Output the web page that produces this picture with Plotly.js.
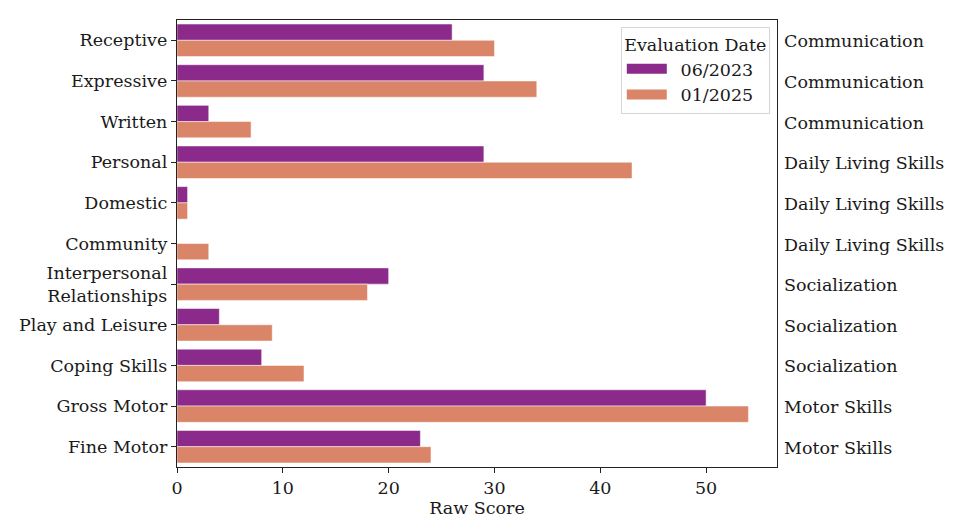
<!DOCTYPE html>
<html>
<head>
<meta charset="utf-8">
<script src="https://cdn.plot.ly/plotly-3.0.1.min.js"></script>
<style>html,body{margin:0;padding:0;background:#fff;}#chart{width:960px;height:530px;}</style>
</head>
<body>
<div id="chart"></div>
<script>
const subdomains = ["Receptive","Expressive","Written","Personal","Domestic","Community","Interpersonal<br>Relationships","Play and Leisure","Coping Skills","Gross Motor","Fine Motor"];
const domains = ["Communication","Communication","Communication","Daily Living Skills","Daily Living Skills","Daily Living Skills","Socialization","Socialization","Socialization","Motor Skills","Motor Skills"];
const scores2023 = [26,29,3,29,1,0,20,4,8,50,23];
const scores2025 = [30,34,7,43,1,3,18,9,12,54,24];
const seriesNames = ["06/2023","01/2025"];
const colors = ['#8B2A8B','#DA8468'];

const font = "DejaVu Serif, serif";
const fs = 17.5;
const pad = '\u2002';
const traces = [
  {type:'bar', orientation:'h', name:seriesNames[0], y:subdomains, x:scores2023, showlegend:false,
   marker:{color:colors[0], line:{color:'#ffffff', width:0.5}}},
  {type:'bar', orientation:'h', name:seriesNames[1], y:subdomains, x:scores2025, showlegend:false,
   marker:{color:colors[1], line:{color:'#ffffff', width:0.5}}},
  {type:'scatter', mode:'lines', name:pad + seriesNames[0], x:[null], y:[null], line:{color:colors[0], width:13}},
  {type:'scatter', mode:'lines', name:pad + seriesNames[1], x:[null], y:[null], line:{color:colors[1], width:13}}
];
const annotations = subdomains.map((s,i)=>({
  xref:'paper', yref:'y', x:1, y:s, xanchor:'left', yanchor:'middle', xshift:5, yshift:-1,
  text:domains[i], showarrow:false, font:{family:font, size:fs, color:'#1a1a1a'}
}));
const layout = {
  width:960, height:530,
  margin:{l:177, r:183, t:20, b:63},
  paper_bgcolor:'#fff', plot_bgcolor:'#fff',
  barmode:'group', bargap:0.2, bargroupgap:0,
  font:{family:font, size:fs, color:'#1a1a1a'},
  xaxis:{range:[0,56.7], showgrid:false, zeroline:false, showline:true, mirror:true,
    linecolor:'#222', linewidth:1.2, ticks:'outside', ticklen:5, tickcolor:'#222',
    tickvals:[0,10,20,30,40,50], tickfont:{family:font,size:fs},
    title:{text:'Raw Score', font:{family:font,size:fs}, standoff:4}},
  yaxis:{type:'category', autorange:'reversed', showgrid:false, zeroline:false,
    showline:true, mirror:true, linecolor:'#222', linewidth:1.2, ticks:'outside', ticklen:5,
    tickcolor:'#222', tickfont:{family:font,size:fs}},
  legend:{x:0.988, xanchor:'right', y:0.984, yanchor:'top', bgcolor:'rgba(255,255,255,0.85)',
    bordercolor:'#d6d6d6', borderwidth:1, font:{family:font,size:fs},
    title:{text:'Evaluation Date', font:{family:font,size:fs}, side:'top center'},
    traceorder:'normal', itemwidth:40, tracegroupgap:0},
  annotations:annotations,
  showlegend:true
};
Plotly.newPlot('chart', traces, layout, {displayModeBar:false, staticPlot:true});
</script>
</body>
</html>
